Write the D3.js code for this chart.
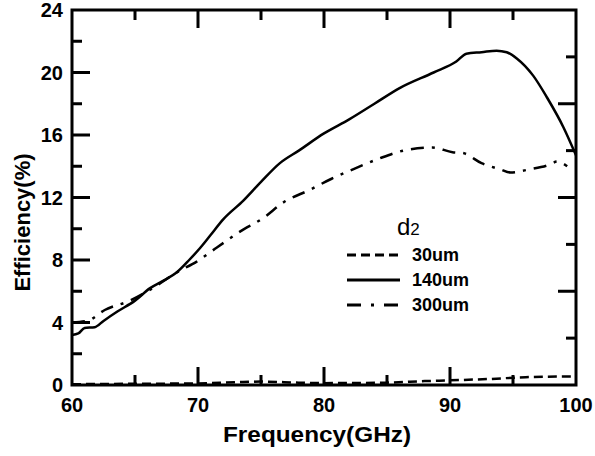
<!DOCTYPE html>
<html>
<head>
<meta charset="utf-8">
<script src="https://cdn.jsdelivr.net/npm/d3@7"></script>
<style>
  body { margin: 0; background: #fff; }
  svg text { font-family: "Liberation Sans", Arial, sans-serif; fill: #000; }
</style>
</head>
<body>
<div id="chart"></div>
<script>
// ---------------------------------------------------------------------------
// Data
const xTicks = [60, 70, 80, 90, 100];
const xMinor = [65, 75, 85, 95];
const yTicks = [0, 4, 8, 12, 16, 20, 24];
const yMinor = [2, 6, 10, 14, 18, 22];
// the right frame uses its own spacing in the original (8 divisions)
const rightMajor = [2, 4, 6];
const rightMinor = [1, 3, 5, 7];

const freq30 = [60, 65, 70, 73, 75, 78, 80, 85, 88, 90, 93, 96, 100];
const eff30 = [0.05, 0.08, 0.1, 0.18, 0.22, 0.15, 0.12, 0.15, 0.25, 0.3, 0.38, 0.5, 0.55];

const freq140 = [60, 60.5, 61, 61.8, 62.5, 63.6, 65, 66.2, 67.3, 68.3, 69.3, 70.2, 71, 72, 73.6, 75, 76.5, 78, 80, 82, 84, 86, 88.7, 90.5, 91.3, 92.5, 93.7, 94.5, 95.3, 96.6, 97.7, 99, 100];
const eff140 = [3.2, 3.3, 3.65, 3.7, 4.1, 4.7, 5.4, 6.2, 6.7, 7.2, 8.0, 8.8, 9.6, 10.6, 11.8, 13.0, 14.2, 15.0, 16.1, 17.0, 18.0, 19.0, 20.0, 20.7, 21.2, 21.3, 21.4, 21.3, 20.9, 19.8, 18.4, 16.5, 14.7];

const freq300 = [60, 61.2, 62.6, 64.6, 66.4, 68.3, 69.9, 71.5, 73.3, 75.2, 76.8, 78.9, 80.6, 82.3, 84.4, 86.3, 88.6, 90.2, 91, 92.5, 94, 94.8, 96.3, 97.9, 98.5, 99.3];
const eff300 = [4.0, 4.1, 4.8, 5.4, 6.2, 7.2, 7.9, 8.8, 9.8, 10.7, 11.7, 12.5, 13.2, 13.8, 14.5, 15.0, 15.2, 14.9, 14.85, 14.2, 13.8, 13.6, 13.8, 14.1, 14.3, 14.0];

const seriesNames = ['30um', '140um', '300um'];
const seriesDash = ['9,5', null, '13,8,3,8'];
const legendDash = ['9,5', null, '14,10,3,10'];

// ---------------------------------------------------------------------------
// Layout
const width = 595;
const height = 456;
const margin = { top: 10, right: 19, bottom: 71, left: 72 };
const majorLen = 18;
const minorLen = 10;
const tickW = 3;

const svg = d3.select('#chart')
  .append('svg')
  .attr('width', width)
  .attr('height', height);

const x = d3.scaleLinear().domain([60, 100]).range([margin.left, width - margin.right]);
const y = d3.scaleLinear().domain([0, 24]).range([height - margin.bottom, margin.top]);
const yRight = d3.scaleLinear().domain([0, 8]).range([height - margin.bottom, margin.top]);

const frameL = margin.left;
const frameR = width - margin.right;
const frameB = height - margin.bottom;
const frameT = margin.top;

// inward tick marks drawn as small filled bars
const tickLayer = svg.append('g').attr('fill', '#000');
function vTick(px, py, len) {
  tickLayer.append('rect')
    .attr('x', px - tickW / 2).attr('y', Math.min(py, py + len))
    .attr('width', tickW).attr('height', Math.abs(len));
}
function hTick(px, py, len) {
  tickLayer.append('rect')
    .attr('x', Math.min(px, px + len)).attr('y', py - tickW / 2)
    .attr('width', Math.abs(len)).attr('height', tickW);
}

xTicks.slice(1, -1).forEach(v => { vTick(x(v), frameB, -majorLen); vTick(x(v), frameT, majorLen); });
xMinor.forEach(v => { vTick(x(v), frameB, -minorLen); vTick(x(v), frameT, minorLen); });
yTicks.slice(1, -1).forEach(v => hTick(frameL, y(v), majorLen));
yMinor.forEach(v => hTick(frameL, y(v), minorLen));
rightMajor.forEach(v => hTick(frameR, yRight(v), -majorLen));
rightMinor.forEach(v => hTick(frameR, yRight(v), -minorLen));

// frame
svg.append('rect')
  .attr('x', frameL).attr('y', frameT)
  .attr('width', frameR - frameL).attr('height', frameB - frameT)
  .attr('fill', 'none')
  .attr('stroke', '#000')
  .attr('stroke-width', 3);

// tick labels
xTicks.forEach(v => {
  svg.append('text')
    .attr('x', x(v))
    .attr('y', frameB + 20)
    .attr('dy', '0.36em')
    .attr('text-anchor', 'middle')
    .attr('font-size', 20)
    .attr('font-weight', 'bold')
    .text(v);
});
yTicks.forEach(v => {
  svg.append('text')
    .attr('x', frameL - 9)
    .attr('y', y(v))
    .attr('dy', '0.36em')
    .attr('text-anchor', 'end')
    .attr('font-size', 20)
    .attr('font-weight', 'bold')
    .text(v);
});

// ---------------------------------------------------------------------------
// Lines
const line = d3.line()
  .x(d => x(d[0]))
  .y(d => y(d[1]))
  .curve(d3.curveMonotoneX);

const seriesData = [
  d3.zip(freq30, eff30),
  d3.zip(freq140, eff140),
  d3.zip(freq300, eff300)
];

seriesData.forEach((data, i) => {
  svg.append('path')
    .datum(data)
    .attr('d', line)
    .attr('fill', 'none')
    .attr('stroke', '#000')
    .attr('stroke-width', 2.5)
    .attr('stroke-dasharray', seriesDash[i]);
});

// ---------------------------------------------------------------------------
// Legend
const legend = svg.append('g').attr('transform', 'translate(347,235)');
const title = legend.append('text').attr('x', 50).attr('y', 0);
title.append('tspan').attr('font-size', 24).text('d');
title.append('tspan').attr('font-size', 17).text('2');

seriesNames.forEach((name, i) => {
  const yy = 20 + i * 25;
  legend.append('line')
    .attr('x1', 0).attr('x2', 53)
    .attr('y1', yy).attr('y2', yy)
    .attr('stroke', '#000')
    .attr('stroke-width', 3)
    .attr('stroke-dasharray', legendDash[i]);
  legend.append('text')
    .attr('x', 65).attr('y', yy + 6)
    .attr('font-size', 18)
    .attr('font-weight', 'bold')
    .text(name);
});

// axis titles
svg.append('text')
  .attr('x', (frameL + frameR) / 2 - 7)
  .attr('y', 442)
  .attr('text-anchor', 'middle')
  .attr('font-size', 22)
  .attr('font-weight', 'bold')
  .attr('textLength', 188)
  .attr('lengthAdjust', 'spacingAndGlyphs')
  .text('Frequency(GHz)');

svg.append('text')
  .attr('transform', `translate(30,${(frameT + frameB) / 2 + 25}) rotate(-90)`)
  .attr('text-anchor', 'middle')
  .attr('font-size', 22)
  .attr('font-weight', 'bold')
  .text('Efficiency(%)');
</script>
</body>
</html>
